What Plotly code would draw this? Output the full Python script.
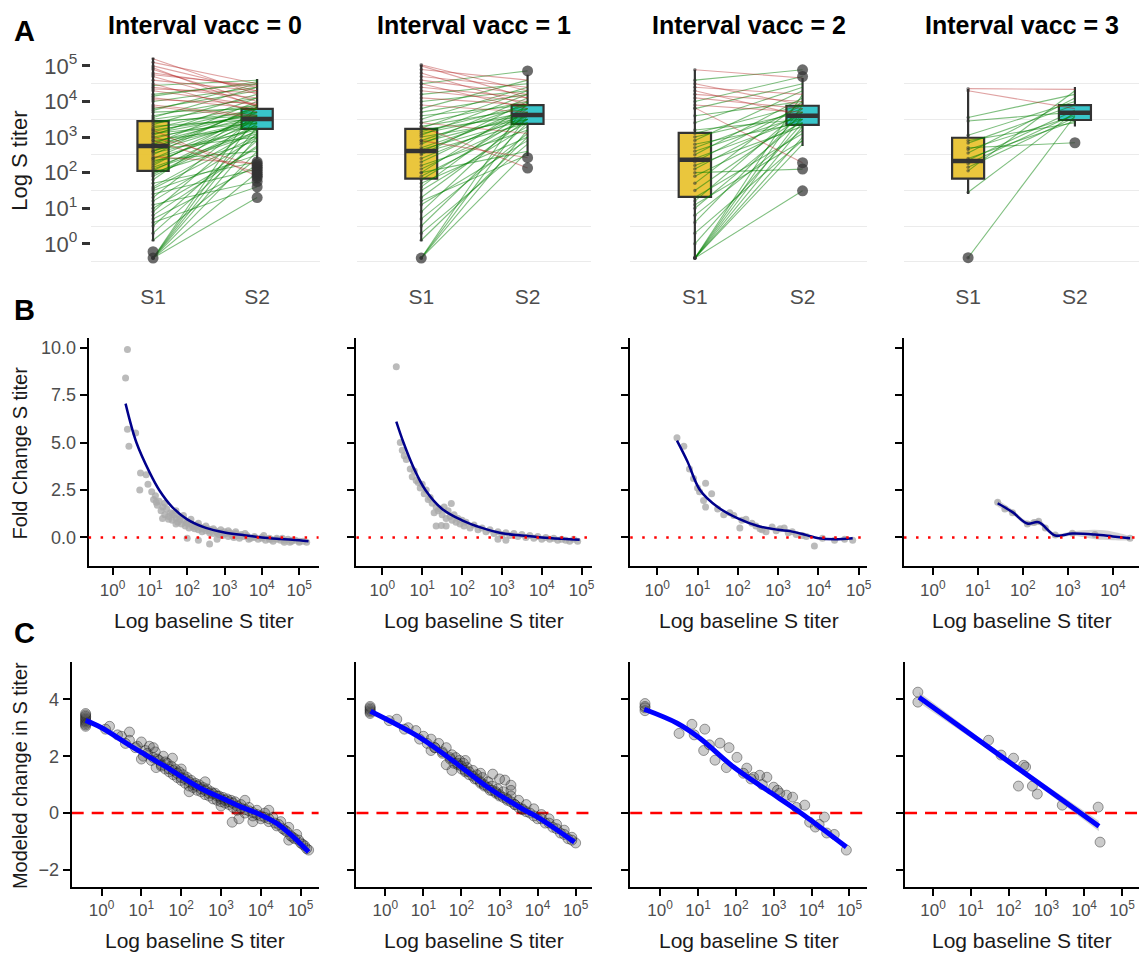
import plotly.graph_objects as go

W, H = 1144, 954

# ------------------------------------------------------------------ data
panel_titles = ["Interval vacc = 0", "Interval vacc = 1", "Interval vacc = 2", "Interval vacc = 3"]
time_labels = ["S1", "S2"]
time_pos = [1, 2]
decade_ticks = [0, 1, 2, 3, 4, 5]

# Row A: paired log10 S titers (S1 -> S2) per interval group
a0_s1 = [-0.40,-0.40,-0.40,-0.40,-0.40,-0.40,-0.40,0.10,0.30,0.50,0.70,0.90,1.00,1.20,1.30,1.50,1.60,1.80,1.90,2.00,2.05,2.10,2.20,2.30,2.35,2.40,2.50,2.55,2.60,2.65,2.70,2.75,2.80,2.85,2.90,2.95,3.00,3.05,3.10,3.15,3.20,3.25,3.30,3.35,3.40,3.45,3.00,3.20,2.90,3.50,3.60,3.70,3.80,3.90,4.00,4.10,4.20,4.30,4.40,4.50,4.60,4.70,4.80,4.90,5.00,5.10,5.20,4.45,3.75,4.15,3.55,1.10,0.60,1.40,2.45,1.70,2.15,2.25,2.60,1.95,2.80,3.10,2.40,1.55,0.80,4.05,4.35,4.75,4.95,3.85]
a0_s2 = [1.30,2.00,2.60,3.00,3.30,3.60,3.90,2.40,2.90,3.10,2.20,3.40,2.70,3.00,3.60,2.50,3.20,3.80,3.30,2.90,3.50,3.10,3.70,3.40,2.60,3.60,3.90,3.20,3.50,3.00,3.80,3.40,4.00,3.60,3.30,3.70,3.50,4.10,3.40,3.80,3.60,3.90,3.50,4.20,3.70,3.60,2.20,1.90,2.00,3.90,4.10,3.80,4.30,3.60,4.40,3.80,4.50,3.90,4.10,3.70,4.30,3.90,4.40,4.00,4.30,4.50,4.20,4.60,4.50,4.55,4.40,1.75,1.60,2.10,2.25,2.30,3.15,3.55,3.85,3.35,3.45,3.65,3.25,3.05,2.75,3.95,4.25,4.45,3.85,3.55]
a1_s1 = [-0.40,-0.40,-0.40,-0.40,0.10,0.30,0.50,0.70,0.90,1.10,1.30,1.50,1.60,1.70,1.80,1.90,2.00,2.10,2.20,2.30,2.40,2.50,2.55,2.60,2.65,2.70,2.80,2.85,2.90,3.00,3.05,3.10,3.15,3.20,3.25,3.30,3.40,3.50,3.60,3.70,3.80,3.90,4.00,4.10,4.20,4.30,4.40,4.50,4.60,4.70,4.80,4.90,5.00,5.03,3.30,2.90,4.50,2.00,1.20,3.40]
a1_s2 = [2.60,3.20,3.60,4.00,3.00,2.80,3.40,3.10,3.70,2.90,3.50,3.30,3.80,3.00,3.60,3.40,3.90,3.50,3.20,3.70,3.60,4.00,3.40,3.80,3.50,3.70,4.10,3.60,3.90,3.50,4.20,3.70,3.90,3.60,4.30,3.80,4.00,4.40,3.90,4.20,4.60,3.70,4.30,3.90,4.50,4.00,4.10,3.80,4.20,4.40,3.90,4.60,4.10,4.30,2.13,2.42,4.86,2.60,2.50,3.10]
a2_s1 = [-0.40,-0.40,-0.40,-0.40,-0.40,-0.40,-0.40,0.00,0.30,0.60,0.80,1.00,1.20,1.30,1.50,1.70,1.90,2.10,2.20,2.30,2.40,2.50,2.60,2.70,2.80,2.90,3.00,3.10,3.20,3.40,3.60,3.80,3.82,3.90,4.00,4.10,4.20,4.30,4.40,4.50,4.89,4.60,2.00,1.10]
a2_s2 = [1.49,2.80,3.30,3.60,3.90,4.20,3.00,3.40,2.90,3.70,3.20,3.50,3.80,3.10,3.60,4.00,3.40,3.70,3.30,3.90,3.50,4.10,3.60,3.80,3.40,4.30,3.70,3.90,3.50,4.40,4.00,4.50,2.28,3.70,4.70,3.80,4.00,3.60,4.20,3.90,4.66,4.89,2.10,2.90]
a3_s1 = [4.36,4.30,3.45,2.83,2.65,2.35,2.15,2.05,1.45,-0.39,2.40,3.05,2.55,2.25,2.90,2.70,3.55]
a3_s2 = [4.34,3.80,3.70,3.90,3.60,3.75,3.55,4.30,3.70,3.60,3.45,4.00,4.10,3.65,3.40,2.84,4.20]

# Row A box statistics (log10 titer)
box_s1_q1 = [2.05, 1.83, 1.32, 1.83]
box_s1_med = [2.75, 2.61, 2.36, 2.33]
box_s1_q3 = [3.45, 3.23, 3.12, 2.98]
box_s1_lo = [0.08, 0.08, -0.39, 1.40]
box_s1_hi = [5.22, 5.03, 4.89, 4.35]
box_s2_q1 = [3.23, 3.37, 3.34, 3.48]
box_s2_med = [3.51, 3.62, 3.60, 3.68]
box_s2_q3 = [3.79, 3.90, 3.88, 3.90]
box_s2_lo = [2.39, 2.47, 2.75, 3.30]
box_s2_hi = [4.63, 4.75, 4.66, 4.41]
out_s1 = [[-0.40, -0.22], [-0.40], [], [-0.39]]
out_s2 = [[1.30, 1.60, 1.75, 1.85, 1.90, 1.95, 2.00, 2.05, 2.10, 2.15, 2.20, 2.25, 2.30],
          [4.86, 2.42, 2.13], [4.89, 4.70, 2.28, 2.10, 1.49], [2.84]]

# Row B: log10 baseline titer vs fold change
b0_x = [0.35,0.40,0.40,0.44,0.62,0.75,0.73,0.95,0.90,1.05,1.10,1.15,1.20,1.25,1.30,1.35,1.40,1.45,1.50,1.34,1.17,1.55,1.60,1.65,1.70,1.75,1.80,1.85,1.90,1.95,2.00,2.05,2.10,2.15,2.20,2.25,2.30,2.35,2.40,2.45,2.50,2.00,2.30,2.60,2.80,2.55,2.60,2.65,2.70,2.75,2.80,2.85,2.90,2.95,3.00,3.05,3.10,3.15,3.20,3.25,3.30,3.35,3.40,3.45,3.50,3.60,3.70,3.80,3.90,4.00,4.10,4.20,4.30,4.40,4.50,4.60,4.70,4.80,4.90,5.00,5.10,5.20,3.55,3.65,4.05,4.25,4.55,4.75]
b0_y = [8.40,9.90,5.70,4.80,5.50,3.40,2.50,2.80,3.30,2.40,2.00,2.20,1.70,1.90,1.40,1.60,1.20,1.50,1.10,1.00,1.85,1.30,0.90,1.20,1.00,0.80,1.10,0.70,0.90,0.60,0.80,0.50,0.70,0.55,0.45,0.65,0.40,0.55,0.30,0.50,0.35,-0.05,-0.15,-0.35,-0.10,0.45,0.25,0.40,0.20,0.35,0.30,0.15,0.25,0.10,0.30,0.20,0.05,0.25,0.15,0.00,0.20,0.10,-0.05,0.15,0.05,0.10,-0.05,0.05,-0.10,0.00,-0.15,-0.05,-0.20,-0.10,-0.15,-0.25,-0.10,-0.20,-0.15,-0.25,-0.20,-0.25,0.20,-0.10,0.10,-0.10,-0.05,-0.25]
b0b_x = [1.60,1.80,2.00,2.20,2.40,2.60,2.80,3.00,3.20,3.40,3.60,3.80,4.00,4.20,4.40,4.60,4.80,5.00,1.40,1.70,1.90,2.10,2.30,2.50,2.70,2.90,3.10,3.30,1.50,1.70]
b0b_y = [1.25,0.95,0.75,0.60,0.45,0.35,0.25,0.20,0.10,0.10,0.05,0.00,-0.05,-0.10,-0.05,-0.15,-0.15,-0.20,1.80,1.40,1.15,0.95,0.75,0.60,0.45,0.40,0.35,0.30,0.95,0.70]
b0_fit_x = [0.35,0.64,1.00,1.25,1.60,2.00,2.50,3.00,3.50,4.00,4.50,5.00,5.25]
b0_fit_y = [7.05,5.00,3.40,2.50,1.60,0.95,0.50,0.26,0.12,0.00,-0.08,-0.15,-0.20]
b1_x = [0.35,0.45,0.50,0.55,0.60,0.70,0.75,0.80,0.85,0.90,0.95,1.00,1.05,1.10,1.15,1.20,1.25,1.30,1.35,1.40,1.45,1.50,1.55,1.60,1.65,1.70,1.75,1.80,1.85,1.90,1.95,2.00,2.05,2.10,2.20,2.30,2.40,2.50,2.60,2.70,2.80,2.90,3.00,3.10,3.20,3.30,3.40,3.50,3.60,3.70,3.80,3.90,4.00,4.10,4.20,4.30,4.40,4.50,4.60,4.70,4.80,4.90,2.90,3.10,1.35,1.48,1.60,1.73]
b1_y = [9.00,5.00,4.60,4.30,4.10,3.60,3.20,3.50,3.00,2.90,2.60,2.80,2.30,2.50,2.00,2.10,1.80,1.30,1.60,1.40,1.50,1.20,1.60,1.00,1.40,1.10,0.90,1.20,0.80,1.00,0.70,0.90,0.60,0.80,0.50,0.65,0.40,0.50,0.30,0.40,0.20,0.30,0.15,0.25,0.10,0.20,0.05,0.15,0.00,0.10,-0.05,0.05,-0.10,0.00,-0.10,-0.05,-0.15,-0.10,-0.15,-0.20,-0.10,-0.20,-0.10,-0.15,0.60,0.63,0.60,1.78]
b1_fit_x = [0.35,0.53,0.80,1.08,1.50,2.00,2.50,3.00,3.50,4.00,4.50,4.95]
b1_fit_y = [6.10,5.00,3.60,2.50,1.50,0.90,0.50,0.22,0.10,0.00,-0.07,-0.12]
b2_x = [0.49,0.66,0.90,1.20,1.35,1.15,1.20,1.80,1.90,2.05,2.20,2.35,2.55,2.70,2.85,3.05,3.15,3.35,3.45,3.90,4.40,4.65,4.85,1.00,1.50,1.65,2.45,2.95,3.25,3.60,4.10,0.80,1.05,2.10,2.60,3.70]
b2_y = [5.25,4.80,3.10,2.85,2.30,1.95,1.60,1.30,1.15,0.50,0.95,0.75,0.45,0.30,0.55,0.45,0.50,0.30,0.15,-0.45,-0.15,-0.10,-0.15,2.60,1.50,1.20,0.60,0.35,0.25,0.10,-0.05,3.60,2.40,0.90,0.40,0.05]
b2_fit_x = [0.49,0.75,1.06,1.50,2.00,2.50,3.00,3.30,3.70,4.00,4.40,4.85]
b2_fit_y = [5.10,4.00,2.50,1.60,1.00,0.60,0.40,0.33,0.12,-0.04,-0.10,-0.05]
b3_x = [1.44,1.60,1.77,2.10,2.25,2.35,2.50,2.72,3.10,3.60,4.38]
b3_y = [1.85,1.50,1.30,0.70,0.78,0.85,0.50,0.12,0.22,0.15,-0.05]
b3_fit_x = [1.44,1.77,2.10,2.35,2.72,3.10,3.60,4.00,4.38]
b3_fit_y = [1.80,1.33,0.73,0.80,0.10,0.20,0.15,0.05,-0.05]
b3_fit_lo = [1.62,1.20,0.60,0.66,0.00,0.08,-0.10,-0.15,-0.12]
b3_fit_hi = [1.98,1.46,0.86,0.94,0.20,0.32,0.40,0.30,0.02]

# Row C: log10 baseline titer vs modeled change
c0_x = [-0.40,-0.40,-0.40,-0.40,-0.40,-0.40,-0.40,-0.40,-0.40,-0.40,0.20,0.50,0.70,0.90,1.00,1.10,1.20,1.30,1.35,1.45,1.50,1.55,1.60,1.65,1.70,1.75,1.80,1.85,1.90,1.95,2.00,2.05,2.10,2.15,2.20,2.25,2.30,2.35,2.40,2.45,2.50,2.55,2.60,2.65,2.70,2.75,2.80,2.85,2.90,2.95,3.00,3.05,3.10,3.15,3.20,3.25,3.30,3.35,3.40,3.50,3.60,3.70,3.80,3.90,4.00,4.10,4.20,4.30,4.40,4.50,4.60,4.70,4.80,4.90,5.00,5.10,5.20,0.70,1.37,1.78,3.28,3.45,4.70]
c0_y = [3.05,3.15,3.20,3.25,3.30,3.35,3.40,3.45,3.10,3.50,3.05,2.70,2.85,2.35,2.50,2.20,2.35,1.95,2.15,1.85,1.70,2.00,1.55,1.75,1.45,1.65,1.35,1.55,1.25,1.45,1.15,1.35,1.05,1.25,0.95,1.15,0.90,1.05,0.80,1.00,0.75,0.90,0.65,0.85,0.60,0.75,0.50,0.70,0.45,0.60,0.40,0.55,0.35,0.50,0.30,0.45,0.20,0.40,0.10,0.30,0.00,0.20,-0.10,0.10,-0.20,0.00,-0.30,-0.15,-0.45,-0.30,-0.60,-0.50,-0.85,-0.75,-1.05,-1.15,-1.30,2.56,1.60,1.93,-0.32,-0.20,-0.95]
c0b_x = [0.10,0.40,0.60,0.85,1.05,1.15,1.25,1.40,1.50,1.60,1.70,1.80,1.90,2.00,2.10,2.20,2.30,2.40,2.50,2.60,2.70,2.80,2.90,3.00,3.10,3.20,3.30,3.40,3.50,3.60,3.70,3.80,3.90,4.00,4.10,4.20,4.35,4.45,4.55,4.65,4.75,4.85,4.95,5.05,5.15,1.30,2.00,2.60,3.60,4.20,1.00,2.20,3.00,3.80]
c0b_y = [2.95,2.75,2.45,2.30,2.00,2.10,1.85,1.90,1.65,1.80,1.55,1.50,1.40,1.25,1.20,1.10,1.00,0.95,0.85,0.80,0.70,0.68,0.60,0.50,0.45,0.40,0.35,0.25,0.18,0.12,0.08,0.02,-0.05,-0.10,-0.15,-0.20,-0.35,-0.40,-0.55,-0.65,-0.80,-0.90,-0.95,-1.10,-1.25,2.30,1.55,1.10,0.45,0.10,1.90,0.75,0.25,-0.30]
c0_fit_x = [-0.40,0.00,0.80,1.60,2.45,3.10,3.50,3.90,4.40,4.80,5.20]
c0_fit_y = [3.26,3.00,2.30,1.64,0.90,0.48,0.22,0.00,-0.36,-0.82,-1.37]
c1_x = [-0.40,-0.40,-0.40,-0.40,-0.40,-0.40,0.30,0.60,0.80,1.00,1.10,1.20,1.30,1.40,1.50,1.60,1.70,1.75,1.80,1.85,1.90,1.95,2.00,2.05,2.10,2.15,2.20,2.30,2.35,2.40,2.50,2.55,2.60,2.70,2.75,2.80,2.90,2.95,3.00,3.10,3.20,3.30,3.40,3.50,3.60,3.70,3.80,3.90,4.00,4.10,4.20,4.30,4.40,4.50,4.60,4.70,4.80,4.90,5.00,2.82,3.14,3.30,1.75,1.20]
c1_y = [3.50,3.55,3.60,3.65,3.70,3.75,3.30,3.00,2.90,2.70,2.45,2.60,2.30,2.45,2.10,2.30,1.90,2.05,1.75,1.95,1.70,1.85,1.55,1.75,1.45,1.60,1.35,1.50,1.20,1.35,1.05,1.25,0.95,1.10,0.80,0.95,0.70,0.85,0.60,0.75,0.45,0.60,0.30,0.45,0.15,0.30,0.00,0.15,-0.20,-0.05,-0.35,-0.20,-0.50,-0.40,-0.70,-0.60,-0.90,-0.85,-1.05,1.37,1.16,0.98,1.50,2.20]
c1b_x = [0.10,0.50,0.90,1.30,1.50,1.70,1.90,2.00,2.10,2.20,2.30,2.40,2.50,2.60,2.70,2.80,2.90,3.00,3.10,3.20,3.30,3.40,3.50,3.60,3.70,3.90,4.10,4.30,4.50,4.70,4.90,2.50,3.00,3.30,1.60,2.10]
c1b_y = [3.25,2.95,2.60,2.30,2.15,1.95,1.75,1.65,1.50,1.45,1.30,1.20,1.10,1.00,0.90,0.80,0.75,0.65,0.55,0.50,0.40,0.30,0.20,0.12,0.05,-0.10,-0.20,-0.35,-0.55,-0.75,-0.95,1.40,1.20,0.80,1.70,1.85]
c1_fit_x = [-0.39,0.94,1.99,2.69,3.56,4.00,4.97]
c1_fit_y = [3.58,2.63,1.62,0.91,0.18,-0.14,-1.02]
c2_x = [-0.40,-0.40,-0.40,-0.40,0.50,0.84,1.18,1.15,1.45,1.82,2.03,1.75,2.29,2.47,2.63,2.82,3.00,3.16,3.34,3.50,3.82,3.95,4.10,4.34,4.40,4.92,1.58,1.30,2.20,2.70,3.10,3.60,4.20,4.60,0.90,2.40]
c2_y = [3.60,3.70,3.75,3.85,2.80,3.12,2.95,2.20,1.86,2.30,1.96,1.60,1.58,1.26,1.33,1.26,0.91,0.70,0.63,0.56,0.28,-0.32,-0.49,-0.14,-0.70,-1.30,2.46,2.40,1.40,1.00,0.80,0.20,-0.40,-0.75,2.75,1.20]
c2_fit_x = [-0.42,0.45,1.05,1.94,2.82,3.68,4.92]
c2_fit_y = [3.65,3.16,2.63,1.62,0.81,0.04,-1.19]
c3_x = [-0.40,-0.40,1.47,1.80,2.13,2.45,2.40,2.26,2.63,2.76,3.42,4.37,4.42]
c3_y = [4.25,3.90,2.56,2.04,1.93,1.62,1.68,0.95,0.95,0.67,0.28,0.21,-1.02]
c3_fit_x = [-0.37,2.00,4.39]
c3_fit_y = [4.07,1.81,-0.46]
c3_fit_lo = [3.88,1.74,-0.64]
c3_fit_hi = [4.26,1.88,-0.28]

pairs_s1 = [a0_s1, a1_s1, a2_s1, a3_s1]
pairs_s2 = [a0_s2, a1_s2, a2_s2, a3_s2]
rowB = [(b0_x + b0b_x, b0_y + b0b_y, b0_fit_x, b0_fit_y), (b1_x, b1_y, b1_fit_x, b1_fit_y),
        (b2_x, b2_y, b2_fit_x, b2_fit_y), (b3_x, b3_y, b3_fit_x, b3_fit_y)]
rowC = [(c0_x + c0b_x, c0_y + c0b_y, c0_fit_x, c0_fit_y),
        (c1_x + c1b_x, c1_y + c1b_y, c1_fit_x, c1_fit_y),
        (c2_x, c2_y, c2_fit_x, c2_fit_y), (c3_x, c3_y, c3_fit_x, c3_fit_y)]
for s1, s2 in zip(pairs_s1, pairs_s2):
    assert len(s1) == len(s2)
for t in rowB + rowC:
    assert len(t[0]) == len(t[1]) and len(t[2]) == len(t[3])

# ------------------------------------------------------------------ layout geometry (pixels)
xA_dom = [(91, 321), (359, 594), (633, 871), (908, 1144)]
xB_dom = [(89, 320), (358, 595), (633, 871), (908, 1144)]
xC_dom = [(72, 320), (358, 595), (633, 871), (909, 1144)]
yA_px, yB_px, yC_px = (50, 268), (337, 566), (662, 887)
xB_range = [[-0.64, 5.52], [-0.65, 5.27], [-0.67, 5.21], [-0.64, 4.58]]
xC_range = [[-0.75, 5.45], [-0.76, 5.44], [-0.79, 5.47], [-0.74, 5.45]]
BOX_W = 0.3

FONT = "Liberation Sans, Arial, Helvetica, sans-serif"
GRAY_TXT = "#4D4D4D"
TITLE_TXT = "#1A1A1A"


def tl(v):
    return [10 ** a for a in v]


def xd(p):
    return [p[0] / W, min(p[1] / W, 1.0)]


def yd(p):
    return [1 - p[1] / H, 1 - p[0] / H]


def sid(i):
    return "" if i == 1 else str(i)


fig = go.Figure()
layout = dict(width=W, height=H, margin=dict(l=0, r=0, t=0, b=0),
              plot_bgcolor="white", paper_bgcolor="white", showlegend=False,
              font=dict(family=FONT, color="black"))

sup = ["10<sup>%d</sup>" % k for k in decade_ticks]
shapes, annotations = [], []

for c in range(4):
    # ---------------- Row A
    i = c + 1
    xa, ya = "x" + sid(i), "y" + sid(i)
    layout["xaxis" + sid(i)] = dict(domain=xd(xA_dom[c]), anchor=ya, range=[0.4, 2.6],
                                    tickvals=time_pos, ticktext=time_labels, showgrid=False,
                                    zeroline=False, showline=False, ticks="outside", ticklen=9,
                                    tickcolor="rgba(0,0,0,0)", tickfont=dict(size=21, color=GRAY_TXT))
    layout["yaxis" + sid(i)] = dict(domain=yd(yA_px), anchor=xa, type="log", range=[-0.70, 5.42],
                                    tickvals=tl(decade_ticks), ticktext=sup, showgrid=False,
                                    zeroline=False, showline=False,
                                    ticks="outside" if c == 0 else "", ticklen=8, tickwidth=2.5,
                                    tickcolor="#333333", showticklabels=(c == 0),
                                    tickfont=dict(size=22, color=GRAY_TXT),
                                    minor=dict(tickvals=tl([k + 0.5 for k in range(-1, 5)]),
                                               showgrid=True, gridcolor="#EBEBEB", gridwidth=1.3,
                                               ticks=""))
    gx, gy, rx, ry = [], [], [], []
    for a, b in zip(pairs_s1[c], pairs_s2[c]):
        if b >= a:
            gx += [time_pos[0], time_pos[1], None]; gy += [10 ** a, 10 ** b, None]
        else:
            rx += [time_pos[0], time_pos[1], None]; ry += [10 ** a, 10 ** b, None]
    fig.add_trace(go.Scatter(x=gx, y=gy, mode="lines", xaxis=xa, yaxis=ya, hoverinfo="skip",
                             line=dict(color="rgba(0,128,0,0.5)", width=1.1)))
    fig.add_trace(go.Scatter(x=rx, y=ry, mode="lines", xaxis=xa, yaxis=ya, hoverinfo="skip",
                             line=dict(color="rgba(178,34,34,0.42)", width=1.1)))
    boxes = [(time_pos[0], box_s1_q1, box_s1_med, box_s1_q3, box_s1_lo, box_s1_hi, "rgba(232,193,45,0.92)"),
             (time_pos[1], box_s2_q1, box_s2_med, box_s2_q3, box_s2_lo, box_s2_hi, "rgba(40,192,198,0.92)")]
    for pos, q1, md, q3, lo, hi, col in boxes:
        fig.add_trace(go.Box(x=[pos], q1=[10 ** q1[c]], median=[10 ** md[c]], q3=[10 ** q3[c]],
                             lowerfence=[10 ** lo[c]], upperfence=[10 ** hi[c]], width=BOX_W,
                             fillcolor=col, line=dict(color="#333333", width=2.2), whiskerwidth=0,
                             boxpoints=False, xaxis=xa, yaxis=ya, hoverinfo="skip"))
        fig.add_trace(go.Scatter(x=[pos - BOX_W / 2, pos + BOX_W / 2], y=[10 ** md[c]] * 2,
                                 mode="lines", xaxis=xa, yaxis=ya, hoverinfo="skip",
                                 line=dict(color="#333333", width=4.5)))
    fig.add_trace(go.Scatter(x=[time_pos[0]] * len(pairs_s1[c]), y=tl(pairs_s1[c]), mode="markers",
                             xaxis=xa, yaxis=ya, hoverinfo="skip",
                             marker=dict(size=3.5, color="rgba(51,51,51,0.55)")))
    fig.add_trace(go.Scatter(x=[time_pos[0]] * len(out_s1[c]) + [time_pos[1]] * len(out_s2[c]),
                             y=tl(out_s1[c] + out_s2[c]), mode="markers", xaxis=xa, yaxis=ya,
                             hoverinfo="skip", marker=dict(size=11, color="rgba(51,51,51,0.72)")))
    annotations.append(dict(text="<b>%s</b>" % panel_titles[c], xref="paper", yref="paper",
                            x=(xA_dom[c][0] + xA_dom[c][1]) / 2 / W, y=1 - 24 / H,
                            showarrow=False, font=dict(size=25, color="black"),
                            xanchor="center", yanchor="middle"))

    # ---------------- Row B
    i = c + 5
    xa, ya = "x" + sid(i), "y" + sid(i)
    layout["xaxis" + sid(i)] = dict(domain=xd(xB_dom[c]), anchor=ya, type="log", range=xB_range[c],
                                    tickvals=tl(decade_ticks), ticktext=sup, showgrid=False,
                                    zeroline=False, showline=True, linecolor="black", linewidth=2,
                                    ticks="outside", ticklen=7, tickwidth=1.5, tickcolor="black",
                                    tickfont=dict(size=17, color=GRAY_TXT))
    layout["yaxis" + sid(i)] = dict(domain=yd(yB_px), anchor=xa, range=[-1.53, 10.53],
                                    tickvals=[0, 2.5, 5, 7.5, 10],
                                    ticktext=["0.0", "2.5", "5.0", "7.5", "10.0"], showgrid=False,
                                    zeroline=False, showline=True, linecolor="black", linewidth=2,
                                    ticks="outside", ticklen=7, tickwidth=1.5, tickcolor="black",
                                    showticklabels=(c == 0), tickfont=dict(size=18, color=GRAY_TXT))
    bx, by, fx, fy = rowB[c]
    fig.add_trace(go.Scatter(x=tl(bx), y=by, mode="markers", xaxis=xa, yaxis=ya, hoverinfo="skip",
                             marker=dict(size=7, color="rgba(170,170,170,0.8)")))
    if c == 3:
        fig.add_trace(go.Scatter(x=tl(fx) + tl(fx)[::-1], y=b3_fit_hi + b3_fit_lo[::-1],
                                 fill="toself", fillcolor="rgba(160,160,160,0.45)", mode="lines",
                                 line=dict(width=0, shape="spline"), xaxis=xa, yaxis=ya,
                                 hoverinfo="skip"))
    fig.add_trace(go.Scatter(x=tl(fx), y=fy, mode="lines", xaxis=xa, yaxis=ya, hoverinfo="skip",
                             line=dict(color="#00008B", width=2.5, shape="spline")))
    shapes.append(dict(type="line", xref=xa + " domain", x0=0, x1=1, yref=ya, y0=0, y1=0,
                       line=dict(color="red", width=2.5, dash="2.5px,9.5px"), layer="above"))
    annotations.append(dict(text="Log baseline S titer", xref="paper", yref="paper",
                            x=(xB_dom[c][0] + xB_dom[c][1]) / 2 / W, y=1 - 620 / H,
                            showarrow=False, font=dict(size=21, color=TITLE_TXT),
                            xanchor="center", yanchor="middle"))

    # ---------------- Row C
    i = c + 9
    xa, ya = "x" + sid(i), "y" + sid(i)
    layout["xaxis" + sid(i)] = dict(domain=xd(xC_dom[c]), anchor=ya, type="log", range=xC_range[c],
                                    tickvals=tl(decade_ticks), ticktext=sup, showgrid=False,
                                    zeroline=False, showline=True, linecolor="black", linewidth=2,
                                    ticks="outside", ticklen=7, tickwidth=1.5, tickcolor="black",
                                    tickfont=dict(size=17, color=GRAY_TXT))
    layout["yaxis" + sid(i)] = dict(domain=yd(yC_px), anchor=xa, range=[-2.6, 5.3],
                                    tickvals=[-2, 0, 2, 4], showgrid=False,
                                    zeroline=False, showline=True, linecolor="black", linewidth=2,
                                    ticks="outside", ticklen=7, tickwidth=1.5, tickcolor="black",
                                    showticklabels=(c == 0), tickfont=dict(size=18, color=GRAY_TXT))
    cx, cy, fx, fy = rowC[c]
    shapes.append(dict(type="line", xref=xa + " domain", x0=0, x1=1, yref=ya, y0=0, y1=0,
                       line=dict(color="red", width=2.5, dash="12px,8px"), layer="below"))
    fig.add_trace(go.Scatter(x=tl(cx), y=cy, mode="markers", xaxis=xa, yaxis=ya, hoverinfo="skip",
                             marker=dict(size=10, color="rgba(70,70,70,0.28)",
                                         line=dict(color="rgba(20,20,20,0.4)", width=1))))
    if c == 3:
        fig.add_trace(go.Scatter(x=tl(fx) + tl(fx)[::-1], y=c3_fit_hi + c3_fit_lo[::-1],
                                 fill="toself", fillcolor="rgba(160,160,160,0.45)", mode="lines",
                                 line=dict(width=0), xaxis=xa, yaxis=ya, hoverinfo="skip"))
    fig.add_trace(go.Scatter(x=tl(fx), y=fy, mode="lines", xaxis=xa, yaxis=ya, hoverinfo="skip",
                             line=dict(color="#0000FF", width=5, shape="spline")))
    annotations.append(dict(text="Log baseline S titer", xref="paper", yref="paper",
                            x=(xC_dom[c][0] + xC_dom[c][1]) / 2 / W, y=1 - 940 / H,
                            showarrow=False, font=dict(size=21, color=TITLE_TXT),
                            xanchor="center", yanchor="middle"))

# y-axis titles and panel letters
for txt, yc, fs in [("Log S titer", 160, 22), ("Fold Change S titer", 452, 20),
                    ("Modeled change in S titer", 775, 20)]:
    annotations.append(dict(text=txt, xref="paper", yref="paper", x=20 / W, y=1 - yc / H,
                            textangle=-90, showarrow=False, font=dict(size=fs, color=TITLE_TXT),
                            xanchor="center", yanchor="middle"))
for txt, yc in [("A", 30), ("B", 309), ("C", 633)]:
    annotations.append(dict(text="<b>%s</b>" % txt, xref="paper", yref="paper", x=25 / W,
                            y=1 - yc / H, showarrow=False, font=dict(size=29, color="black"),
                            xanchor="center", yanchor="middle"))

layout["shapes"] = shapes
layout["annotations"] = annotations
fig.update_layout(**layout)
fig.write_html("out.html", config={"displayModeBar": False},
               post_script="document.body.style.margin='0px';"
                           "document.body.style.overflow='hidden';")
